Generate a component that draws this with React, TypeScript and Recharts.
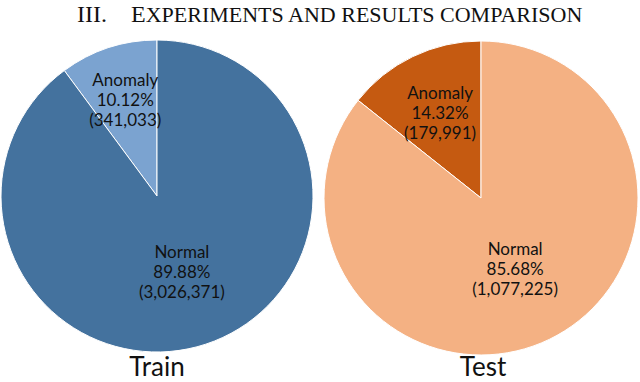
import React from "react"
import { PieChart, Pie, Cell } from "recharts"

const sliceNames = ["Anomaly", "Normal"]
const trainCounts = [341033, 3026371]
const trainPercents = ["10.12%", "89.88%"]
const trainCountLabels = ["(341,033)", "(3,026,371)"]
const testCounts = [179991, 1077225]
const testPercents = ["14.32%", "85.68%"]
const testCountLabels = ["(179,991)", "(1,077,225)"]
const trainColors = ["#7BA3D0", "#44729E"]
const testColors = ["#C55A11", "#F4B183"]

const trainData = sliceNames.map((name, i) => ({
  name,
  value: trainCounts[i],
  pct: trainPercents[i],
  count: trainCountLabels[i],
}))
const testData = sliceNames.map((name, i) => ({
  name,
  value: testCounts[i],
  pct: testPercents[i],
  count: testCountLabels[i],
}))

const RADIAN = Math.PI / 180
const labelFont = "Lato, 'Open Sans', sans-serif"
const serifFont = "'Liberation Serif', 'DejaVu Serif', serif"

function makeLabel(fracs: number[]) {
  return (props: any) => {
    const { cx, cy, midAngle, outerRadius, index, payload } = props
    const r = outerRadius * fracs[index]
    const x = cx + r * Math.cos(-midAngle * RADIAN)
    const y = cy + r * Math.sin(-midAngle * RADIAN)
    const d = payload.payload ?? payload
    return (
      <text
        x={x}
        y={y}
        textAnchor="middle"
        fill="#111"
        fontSize={17}
        fontFamily={labelFont}
      >
        <tspan x={x} dy={-14}>{d.name}</tspan>
        <tspan x={x} dy={20}>{d.pct}</tspan>
        <tspan x={x} dy={20}>{d.count}</tspan>
      </text>
    )
  }
}

export default function App() {
  return (
    <div style={{ position: "absolute", left: 0, top: 0, width: 640, height: 382, background: "#fff" }}>
      <PieChart width={640} height={382} margin={{ top: 0, right: 0, bottom: 0, left: 0 }}>
        <Pie
          data={trainData}
          dataKey="value"
          cx={157}
          cy={196}
          outerRadius={156}
          startAngle={90}
          endAngle={450}
          stroke="#fff"
          strokeWidth={1}
          labelLine={false}
          label={makeLabel([0.65, 0.51])}
          isAnimationActive={false}
        >
          {trainData.map((d, i) => (
            <Cell key={d.name} fill={trainColors[i]} />
          ))}
        </Pie>
        <Pie
          data={testData}
          dataKey="value"
          cx={481}
          cy={198}
          outerRadius={157}
          startAngle={90}
          endAngle={450}
          stroke="#fff"
          strokeWidth={1}
          labelLine={false}
          label={makeLabel([0.6, 0.5])}
          isAnimationActive={false}
        >
          {testData.map((d, i) => (
            <Cell key={d.name} fill={testColors[i]} />
          ))}
        </Pie>
      </PieChart>
      <svg width={640} height={382} style={{ position: "absolute", left: 0, top: 0, pointerEvents: "none" }}>
        <text x={77} y={22} fontFamily={serifFont} fill="#111">
          <tspan fontSize={24}>III.</tspan>
          <tspan fontSize={24} dx={24}>E</tspan>
          <tspan fontSize={22}>XPERIMENTS AND RESULTS COMPARISON</tspan>
        </text>
        <text x={157} y={376} textAnchor="middle" fontFamily={labelFont} fontSize={26} fill="#111">
          Train
        </text>
        <text x={483} y={376} textAnchor="middle" fontFamily={labelFont} fontSize={26} fill="#111">
          Test
        </text>
      </svg>
    </div>
  )
}
